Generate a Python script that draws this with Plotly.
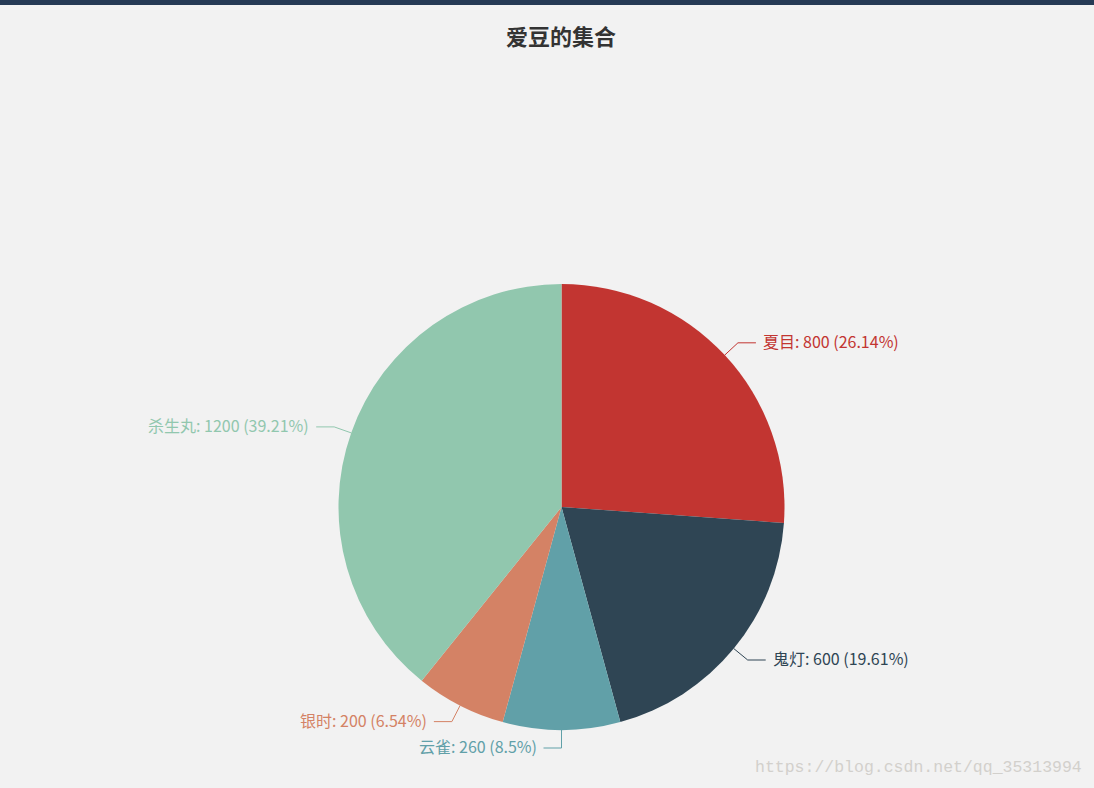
import math
import plotly.graph_objects as go

names = ["夏目", "鬼灯", "云雀", "银时", "杀生丸"]
values = [800, 600, 260, 200, 1200]
colors = ["#c23531", "#2f4554", "#61a0a8", "#d48265", "#91c7ae"]
title_text = "爱豆的集合"
watermark = "https://blog.csdn.net/qq_35313994"

W, H = 1094, 788
cx, cy, R = 561.5, 507, 223  # pie centre / radius in px (top-left origin)
L1, L2, GAP = 18, 18, 5
TEXT_DY = -2

fig = go.Figure(go.Pie(
    labels=names, values=values, sort=False, direction="clockwise", rotation=0,
    marker=dict(colors=colors, line=dict(width=0)),
    textinfo="none", hoverinfo="label+value+percent", showlegend=False,
    domain=dict(x=[(cx - R) / W, (cx + R) / W], y=[(H - cy - R) / H, (H - cy + R) / H]),
))


def px(x):
    return x / W


def py(y):
    return 1 - y / H


def percents(vals, prec=2):
    # largest-remainder rounding so percentages sum to 100
    total = sum(vals)
    digits = 10 ** prec
    target = 100 * digits
    raw = [v / total * target for v in vals]
    base = [math.floor(r) for r in raw]
    rem = [r - b for r, b in zip(raw, base)]
    need = target - sum(base)
    for i in sorted(range(len(vals)), key=lambda i: -rem[i])[:need]:
        base[i] += 1
    return [b / digits for b in base]


pcts = percents(values)
total = sum(values)
cum = 0
shapes = [dict(type="rect", xref="paper", yref="paper", x0=0, x1=1, y0=py(5), y1=1,
               fillcolor="#263a55", line=dict(width=0), layer="above")]
annotations = []
for n, v, c, p in zip(names, values, colors, pcts):
    mid = (cum + v / 2) / total * 2 * math.pi
    cum += v
    s, co = math.sin(mid), math.cos(mid)
    x1, y1 = cx + R * s, cy - R * co
    x2, y2 = cx + (R + L1) * s, cy - (R + L1) * co
    d = 1 if s > 1e-6 else -1
    x3 = x2 + d * L2
    shapes.append(dict(type="path", xref="paper", yref="paper",
                       path=f"M {px(x1)},{py(y1)} L {px(x2)},{py(y2)} L {px(x3)},{py(y2)}",
                       line=dict(color=c, width=1)))
    pct_s = f"{p:.2f}".rstrip("0").rstrip(".")
    annotations.append(dict(
        xref="paper", yref="paper", x=px(x3 + d * GAP), y=py(y2 + TEXT_DY),
        text=f"{n}: {v} ({pct_s}%)", showarrow=False,
        xanchor="left" if d > 0 else "right", yanchor="middle",
        font=dict(family="Noto Sans CJK SC, sans-serif", size=16, color=c)))

annotations.append(dict(xref="paper", yref="paper", x=px(561), y=py(35),
                        text=f"<b>{title_text}</b>", showarrow=False,
                        xanchor="center", yanchor="middle",
                        font=dict(family="Noto Sans CJK SC, sans-serif", size=22, color="#333333")))
annotations.append(dict(xref="paper", yref="paper", x=px(1084), y=py(767),
                        text=watermark, showarrow=False, xanchor="right", yanchor="middle",
                        font=dict(family="Liberation Mono, monospace", size=16.5, color="#d2d0cc")))

fig.update_layout(
    width=W, height=H, margin=dict(l=0, r=0, t=0, b=0),
    paper_bgcolor="#f2f2f2", plot_bgcolor="#f2f2f2",
    shapes=shapes, annotations=annotations,
)
fig.write_html(
    "out.html",
    config={"displayModeBar": False},
    post_script="document.body.style.margin='0';document.body.style.overflow='hidden';",
)
